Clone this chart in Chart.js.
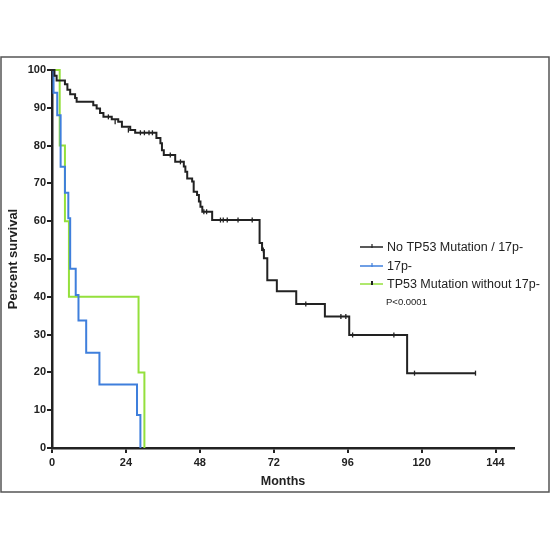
<!DOCTYPE html>
<html>
<head>
<meta charset="utf-8">
<script src="https://cdn.jsdelivr.net/npm/chart.js@4"></script>
<style>
  html, body { margin: 0; padding: 0; background: #fff; }
  #chart { display: block; }
</style>
</head>
<body>
<canvas id="chart" width="550" height="550"></canvas>
<script>
// Kaplan-Meier curves (months, percent survival)
const groupNames = ['No TP53 Mutation / 17p-', '17p-', 'TP53 Mutation without 17p-']

const noMutTimes = [0, 0.8, 1.5, 4.2, 5.0, 5.9, 7.5, 8.0, 13.4, 14.5, 15.6, 16.7, 19.4, 21.5, 22.7, 25.4, 27.0,
  33.9, 35.2, 35.7, 36.3, 40.0, 42.8, 43.3, 43.9, 45.5, 46.0, 47.1, 47.7, 48.2, 48.8, 52.0,
  67.4, 68.2, 68.8, 69.9, 73.0, 79.3, 88.6, 96.5, 115.3, 137.5]
const noMutSurv = [100, 98.5, 97.2, 96.2, 94.8, 93.6, 92.6, 91.6, 90.7, 89.8, 88.6, 87.6, 87.0, 86.3, 85.0, 84.1, 83.4,
  82.0, 80.6, 78.8, 77.5, 75.7, 74.5, 73.1, 71.3, 70.5, 67.8, 66.9, 65.2, 63.8, 62.5, 60.3,
  54.2, 52.4, 50.2, 44.4, 41.5, 38.1, 34.8, 29.9, 19.8, 19.8]

const del17pTimes = [0, 0.5, 1.7, 2.8, 4.2, 5.3, 5.9, 7.7, 8.6, 11.1, 15.4, 27.6, 28.7]
const del17pSurv = [100, 94.0, 88.0, 74.4, 67.5, 60.8, 47.4, 40.5, 33.7, 25.2, 16.8, 8.7, 0]

const tp53Times = [0, 2.5, 4.2, 5.5, 28.1, 30.0]
const tp53Surv = [100, 80, 60, 40, 20, 0]

// censored patients on the first curve
const censorTimes = [18.3, 20.5, 24.8, 28.7, 30.0, 31.5, 32.6, 38.4, 41.7, 49.3, 50.2, 54.7, 55.6, 56.9, 60.4, 65.0,
  68.6, 82.4, 93.8, 95.4, 97.6, 111.0, 117.7, 137.5]
const censorSurv = [87.6, 86.3, 84.1, 83.4, 83.4, 83.4, 83.4, 77.5, 75.7, 62.5, 62.5, 60.3, 60.3, 60.3, 60.3, 60.3,
  52.4, 38.1, 34.8, 34.8, 29.9, 29.9, 19.8, 19.8]

const monthTicks = [0, 24, 48, 72, 96, 120, 144]
const pValueText = 'P<0.0001'

const toPoints = (xs, ys) => xs.map((x, i) => ({ x: x, y: ys[i] }))

const FONT = "'Liberation Sans', Arial, Helvetica, sans-serif"
const INK = '#222'

const frameAndLegend = {
  id: 'frameAndLegend',
  beforeDraw(chart) {
    const ctx = chart.ctx
    ctx.save()
    ctx.strokeStyle = '#555'
    ctx.lineWidth = 1.5
    ctx.strokeRect(1, 57, 548, 435)
    ctx.restore()
  },
  afterDraw(chart) {
    const ctx = chart.ctx
    const rows = [247, 266, 284]
    const groups = chart.data.datasets.filter((d) => !d.censor)
    ctx.save()
    groups.forEach((d, i) => {
      const y = rows[i]
      ctx.strokeStyle = d.borderColor
      ctx.lineWidth = 1.5
      ctx.beginPath()
      ctx.moveTo(360, y)
      ctx.lineTo(383, y)
      ctx.stroke()
      ctx.strokeStyle = i === 1 ? d.borderColor : INK
      ctx.lineWidth = i === 2 ? 2 : 1.2
      ctx.beginPath()
      ctx.moveTo(372, y - 3)
      ctx.lineTo(372, y + 1)
      ctx.stroke()
      ctx.fillStyle = INK
      ctx.font = '12.5px ' + FONT
      ctx.textBaseline = 'middle'
      ctx.fillText(d.label, 387, y + 0.5)
    })
    ctx.font = '9.5px ' + FONT
    ctx.fillText(pValueText, 386, 302)
    ctx.restore()
  },
}

const config = {
  type: 'line',
  data: {
    datasets: [
      {
        label: groupNames[0],
        data: toPoints(noMutTimes, noMutSurv),
        borderColor: INK,
        borderWidth: 2,
      },
      {
        label: groupNames[1],
        data: toPoints(del17pTimes, del17pSurv),
        borderColor: '#3f7fdc',
        borderWidth: 2,
      },
      {
        label: groupNames[2],
        data: toPoints(tp53Times, tp53Surv),
        borderColor: '#94e03c',
        borderWidth: 2,
      },
      {
        label: 'censored',
        censor: true,
        type: 'scatter',
        data: toPoints(censorTimes, censorSurv),
        showLine: false,
        pointStyle: 'line',
        rotation: 90,
        pointRadius: 2.5,
        pointBorderWidth: 1.3,
        borderColor: INK,
      },
    ].map((d) => Object.assign({ stepped: true, pointRadius: 0, fill: false, tension: 0, clip: 4 }, d)),
  },
  options: {
    responsive: false,
    animation: false,
    devicePixelRatio: 1,
    layout: { padding: { left: 0, top: 70, right: 36, bottom: 57 } },
    plugins: {
      legend: { display: false },
      tooltip: { enabled: false },
    },
    scales: {
      x: {
        type: 'linear',
        min: 0,
        max: 150,
        afterFit: (scale) => { scale.height = 45 },
        afterBuildTicks: (scale) => { scale.ticks = monthTicks.map((v) => ({ value: v })) },
        ticks: {
          color: INK,
          padding: 3,
          font: { family: FONT, size: 11, weight: 'bold' },
        },
        grid: { drawOnChartArea: false, drawTicks: true, tickLength: 5, lineWidth: 2, color: INK },
        border: { display: true, width: 2.5, color: INK },
        title: {
          display: true,
          text: 'Months',
          color: INK,
          padding: { top: 0, bottom: 4 },
          font: { family: FONT, size: 12.5, weight: 'bold' },
        },
      },
      y: {
        min: 0,
        max: 100,
        afterFit: (scale) => { scale.width = 52 },
        ticks: {
          stepSize: 10,
          color: INK,
          padding: 1,
          font: { family: FONT, size: 11, weight: 'bold' },
        },
        grid: { drawOnChartArea: false, drawTicks: true, tickLength: 5, lineWidth: 2, color: INK },
        border: { display: true, width: 2.5, color: INK },
        title: {
          display: true,
          text: 'Percent survival',
          color: INK,
          padding: { top: 6, bottom: 0 },
          font: { family: FONT, size: 13, weight: 'bold' },
        },
      },
    },
  },
  plugins: [frameAndLegend],
}

const myChart = new Chart(document.getElementById('chart'), config)
</script>
</body>
</html>
